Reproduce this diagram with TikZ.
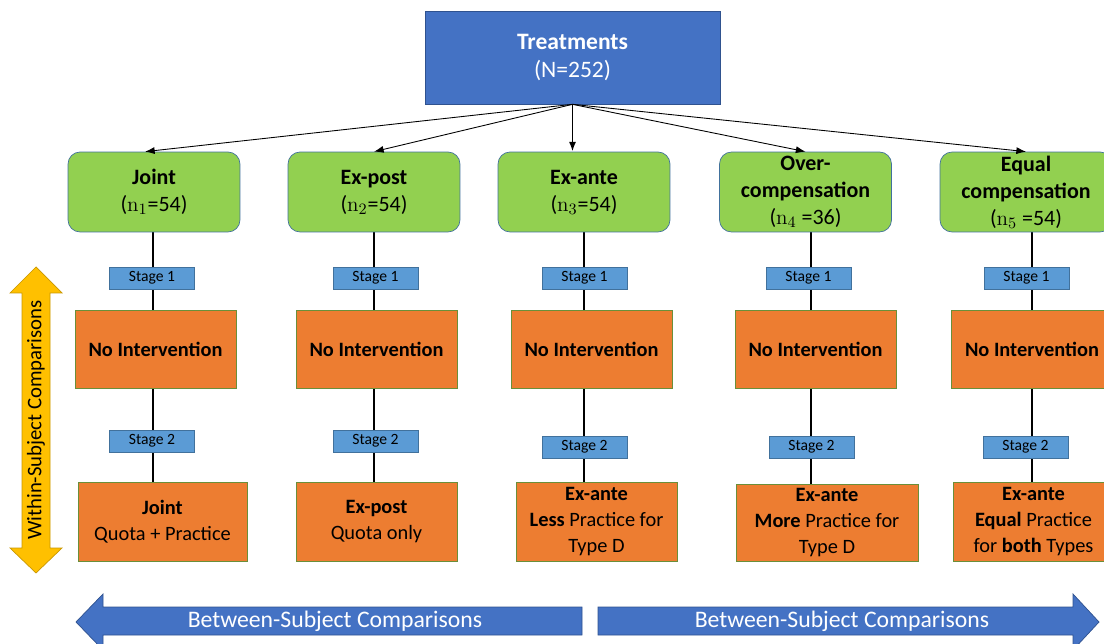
\documentclass[tikz,border=0pt]{standalone}
\usepackage[no-math]{fontspec}
\setmainfont{Carlito}
\usetikzlibrary{arrows.meta,backgrounds}

\definecolor{treatblue}{HTML}{4472C4}
\definecolor{treatedge}{HTML}{2F528F}
\definecolor{condgreen}{HTML}{92D050}
\definecolor{condedge}{HTML}{41719C}
\definecolor{stageblue}{HTML}{5B9BD5}
\definecolor{phaseorange}{HTML}{ED7D31}
\definecolor{phaseedge}{HTML}{6A8F3A}
\definecolor{withingold}{HTML}{FFC000}
\definecolor{withinedge}{HTML}{C99700}

\tikzset{
  treat/.style={draw=treatedge,fill=treatblue,text=white,minimum width=5.9cm,minimum height=1.86cm,
    inner sep=0pt,align=center,font=\fontsize{13.4}{15.5}\selectfont},
  cond/.style={draw=condedge,fill=condgreen,rounded corners=0.24cm,minimum width=3.44cm,minimum height=1.6cm,
    inner sep=0pt,align=center,font=\fontsize{12.5}{15.4}\selectfont},
  stagebox/.style={draw=condedge,fill=stageblue,minimum width=1.7cm,minimum height=0.44cm,
    inner sep=0pt,font=\fontsize{8.9}{10}\selectfont},
  phase/.style={draw=phaseedge,fill=phaseorange,minimum width=3.22cm,minimum height=1.56cm,
    inner sep=0pt,align=center,font=\fontsize{11.6}{14.8}\selectfont},
  spoke/.style={-{Latex[length=5.5pt,width=4pt]},line width=0.5pt},
  stem/.style={line width=1.1pt},
  between/.style={text=white,font=\fontsize{13.5}{15}\selectfont}
}

\begin{document}
\begin{tikzpicture}[x=0.02cm,y=-0.02cm]
  \useasboundingbox (0,0) rectangle (1104,644);
  \clip (0,0) rectangle (1104,644);

  \node[treat] (T) at (572.5,57.5) {\textbf{Treatments}\\(N=252)};

  \node[cond] (g1) at (154,192) {\textbf{Joint}\\($\mathrm{n}_1$=54)};
  \node[cond] (g2) at (374,192) {\textbf{Ex-post}\\($\mathrm{n}_2$=54)};
  \node[cond] (g3) at (584,192) {\textbf{Ex-ante}\\($\mathrm{n}_3$=54)};
  \node[cond] (g4) at (805.5,192) {\textbf{Over-}\\\textbf{compensation}\\($\mathrm{n}_4$ =36)};
  \node[cond] (g5) at (1026,192) {\textbf{Equal}\\\textbf{compensation}\\($\mathrm{n}_5$ =54)};

  \draw[spoke] (T.south) -- ([xshift=-0.18cm]g1.north);
  \draw[spoke] (T.south) -- (g2.north);
  \draw[spoke,line width=1.1pt] (T.south) -- (T.south |- g3.north);
  \draw[spoke] (T.south) -- (g4.north);
  \draw[spoke] (T.south) -- (g5.north);

  % stage 1
  \node[stagebox] (s11) at (152,278) {Stage 1};
  \node[stagebox] (s21) at (375.5,278) {Stage 1};
  \node[stagebox] (s31) at (584.5,278) {Stage 1};
  \node[stagebox] (s41) at (808.5,278) {Stage 1};
  \node[stagebox] (s51) at (1026.5,278) {Stage 1};

  \node[phase] (n1) at (155.5,349) {\textbf{No Intervention}};
  \node[phase] (n2) at (376.5,349) {\textbf{No Intervention}};
  \node[phase] (n3) at (591.5,349) {\textbf{No Intervention}};
  \node[phase] (n4) at (815.5,349) {\textbf{No Intervention}};
  \node[phase] (n5) at (1032,349) {\textbf{No Intervention}};

  % stage 2
  \node[stagebox] (s12) at (152,441) {Stage 2};
  \node[stagebox] (s22) at (375.5,441) {Stage 2};
  \node[stagebox] (s32) at (584.5,447) {Stage 2};
  \node[stagebox] (s42) at (811.5,447) {Stage 2};
  \node[stagebox] (s52) at (1025.5,447) {Stage 2};

  \node[phase,minimum width=3.38cm,minimum height=1.58cm] (b1) at (162.5,521.5) {\textbf{Joint}\\Quota + Practice};
  \node[phase,minimum height=1.58cm] (b2) at (376.5,521.5) {\textbf{Ex-post}\\Quota only};
  \node[phase,minimum height=1.58cm] (b3) at (596.5,521.5) {\textbf{Ex-ante}\\\textbf{Less} Practice for\\Type D};
  \node[phase,minimum width=3.64cm,minimum height=1.54cm] (b4) at (827,522.5) {\textbf{Ex-ante}\\\textbf{More} Practice for\\Type D};
  \node[phase,minimum height=1.58cm] (b5) at (1033.5,521.5) {\textbf{Ex-ante}\\\textbf{Equal} Practice\\for \textbf{both} Types};

  \coordinate (c1) at (153,0);
  \coordinate (c2) at (374,0);
  \coordinate (c3) at (584,0);
  \coordinate (c4) at (811,0);
  \coordinate (c5) at (1032,0);
  \begin{pgfonlayer}{background}
    \foreach \i in {1,...,5}
      \draw[stem] (c\i |- g\i.south) -- (c\i |- b\i.north);
  \end{pgfonlayer}

  % within-subject arrow
  \draw[draw=withinedge,fill=withingold] (36,267) -- (62,293) -- (50,293) -- (50,548) -- (62,548)
    -- (36,573) -- (10,548) -- (22,548) -- (22,293) -- (10,293) -- cycle;
  \node[rotate=90,font=\fontsize{11.8}{13}\selectfont] (W) at (36,420) {Within-Subject Comparisons};

  % between-subject arrows
  \draw[draw=treatedge,fill=treatblue] (76,622) -- (103,594) -- (103,607) -- (582,607) -- (582,635)
    -- (103,635) -- (103,650) -- cycle;
  \draw[draw=treatedge,fill=treatblue] (1099,622) -- (1073,650) -- (1073,635) -- (598,635) -- (598,607)
    -- (1073,607) -- (1073,594) -- cycle;
  \node[between] (B1) at (335,621) {Between-Subject Comparisons};
  \node[between] (B2) at (842,621) {Between-Subject Comparisons};
\end{tikzpicture}
\end{document}
